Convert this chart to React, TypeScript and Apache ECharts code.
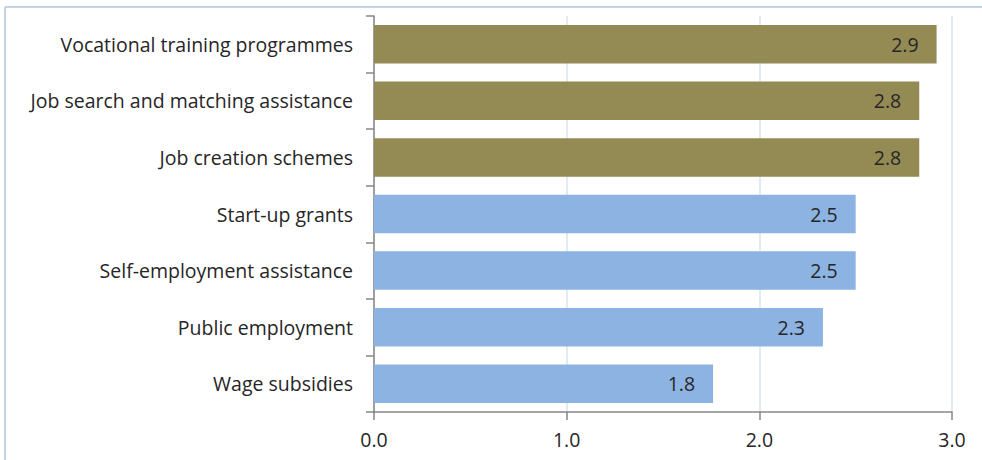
import React, { useEffect, useRef } from "react";
import * as echarts from "echarts";

const categories = [
  "Wage subsidies",
  "Public employment",
  "Self-employment assistance",
  "Start-up grants",
  "Job creation schemes",
  "Job search and matching assistance",
  "Vocational training programmes",
];
const values = [1.76, 2.33, 2.5, 2.5, 2.83, 2.83, 2.92];
const highlighted = [false, false, false, false, true, true, true];
const xTicks = [0, 1, 2, 3];

const FONT = "Open Sans";
const FS = 19.5;
const TEXT = "#262626";

export default function App() {
  const ref = useRef<HTMLDivElement>(null);
  useEffect(() => {
    if (!ref.current) return;
    const chart = echarts.init(ref.current, undefined, { renderer: "svg" });
    chart.setOption({
      animation: false,
      graphic: [
        {
          type: "line",
          shape: { x1: 5, y1: 7, x2: 982, y2: 7 },
          style: { stroke: "#c3d4e9", lineWidth: 2 },
          silent: true,
        },
        {
          type: "line",
          shape: { x1: 5, y1: 7, x2: 5, y2: 460 },
          style: { stroke: "#c3d4e9", lineWidth: 2 },
          silent: true,
        },
      ],
      grid: { left: 374, right: 30, top: 16, bottom: 48, containLabel: false },
      xAxis: {
        type: "value",
        min: xTicks[0],
        max: xTicks[xTicks.length - 1],
        interval: 1,
        axisLine: { show: true, lineStyle: { color: "#868686", width: 1.5 } },
        axisTick: { show: true, length: 8, lineStyle: { color: "#868686", width: 1.5 } },
        axisLabel: {
          margin: 17,
          fontFamily: FONT,
          fontSize: FS,
          color: TEXT,
          formatter: (v: number) => v.toFixed(1),
        },
        splitLine: { show: true, lineStyle: { color: "#d9e4f1", width: 1.5 } },
      },
      yAxis: {
        type: "category",
        data: categories,
        axisLine: { show: true, lineStyle: { color: "#868686", width: 1.5 } },
        axisTick: { show: true, length: 8, alignWithLabel: false, lineStyle: { color: "#868686", width: 1.5 } },
        axisLabel: { margin: 21, fontFamily: FONT, fontSize: FS, color: TEXT },
        splitLine: { show: false },
      },
      series: [
        {
          type: "bar",
          barCategoryGap: "32%",
          data: values.map((v, i) => ({
            value: v,
            itemStyle: { color: highlighted[i] ? "#948a54" : "#8db3e2" },
          })),
          label: {
            show: true,
            position: "insideRight",
            distance: 18,
            fontFamily: FONT,
            fontSize: FS,
            color: TEXT,
            formatter: (p: any) => Number(p.value).toFixed(1),
          },
        },
      ],
    });
    return () => chart.dispose();
  }, []);
  return (
    <div
      ref={ref}
      style={{ position: "fixed", left: 0, top: 0, width: 982, height: 460, background: "#fff" }}
    />
  );
}
